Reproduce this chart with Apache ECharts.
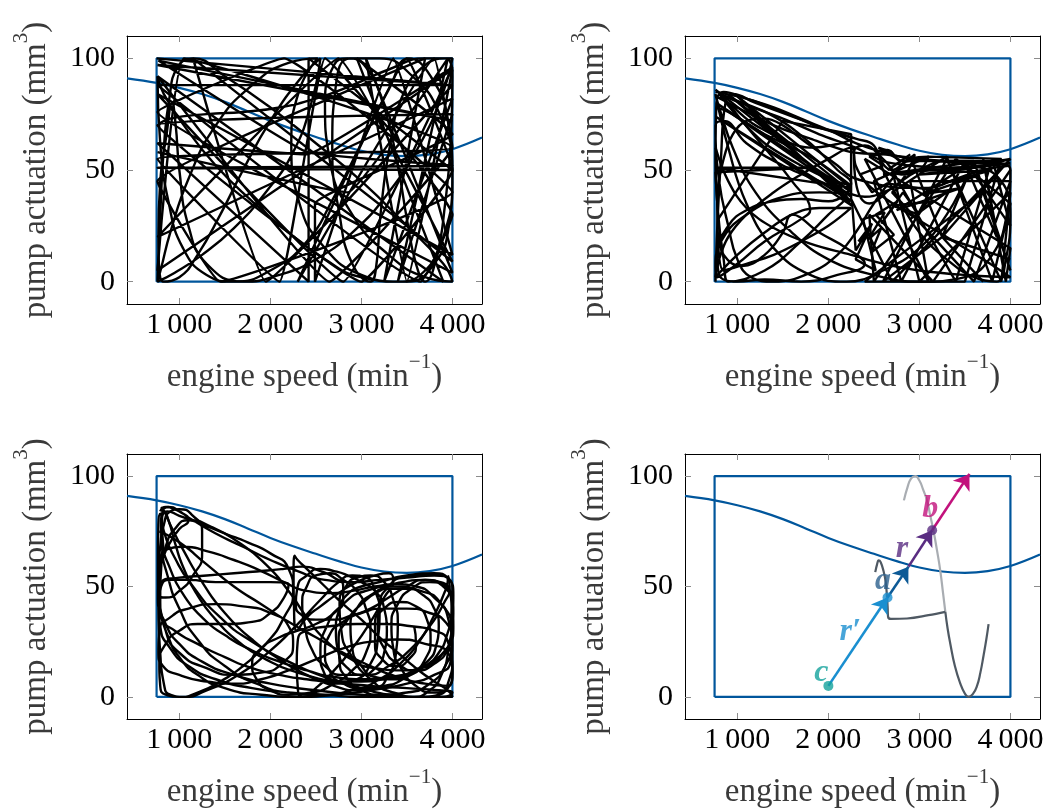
<!DOCTYPE html>
<html><head><meta charset="utf-8">
<script src="https://cdn.jsdelivr.net/npm/echarts@6/dist/echarts.min.js"></script>
<style>html,body{margin:0;padding:0;background:#fff}#c{width:1048px;height:810px}</style>
</head><body><div id="c"></div>
<script>
// ---------- data ----------
const xTicks = [1000, 2000, 3000, 4000];
const yTicks = [0, 50, 100];
const xLabel = '{n|engine speed (min}{s|\u22121}{n|)}';
const yLabel = '{n|pump actuation (mm}{s|3}{n|)}';

const operatingBox = [[750,0],[4000,0],[4000,100],[750,100],[750,0]];
const limitCurve = [[425,91],[750,89],[1000,86.8],[1250,84],[1500,80.5],[1750,76.3],[2000,72],[2250,68.2],[2500,64.8],[2750,61.5],[3000,58.6],[3250,56.8],[3500,56.2],[3750,57],[4000,59.3],[4325,64.5]];

// panel 1 (unconstrained trajectory)
const p1Lines = [[750,100],[4000,88],[760,97],[4000,72],[770,99],[2400,58],[4000,52],[760,51],[4000,50],[2420,100],[2420,0],[760,62],[2400,57],[4000,96],[2800,0],[760,84],[4000,12],[3350,100],[2490,0],[2490,35],[4000,66],[2950,100],[3900,0],[760,92],[2650,0],[4000,60],[1050,100],[760,5],[4000,95],[3500,0],[3050,100],[4000,4],[760,76],[2150,100],[4000,40],[1450,0],[760,45],[3700,100],[3250,0],[4000,82],[760,20],[2750,100],[4000,9],[1150,100],[1950,0],[4000,88],[760,88],[3650,0],[4000,30],[2600,100],[2100,0],[760,55],[4000,60],[3800,100],[2300,0],[3500,100],[4000,50],[3000,0],[760,70],[4000,75],[3400,0],[3950,100],[2850,40],[760,58]];
const p1Curves = [[760,0],[790,30],[830,60],[890,82],[980,96],[1150,100],[1500,92],[2000,78],[2500,62],[3000,45],[3500,25],[3900,8],[4000,0],[3700,2],[3300,12],[2900,30],[2650,55],[2600,80],[2700,97],[2850,100],[3050,96],[3250,78],[3400,52],[3500,28],[3600,8],[3700,0],[3820,10],[3920,35],[3985,65],[4000,92],[3920,100],[3700,97],[3460,84],[3310,60],[3210,30],[3160,6],[3100,0],[2900,8],[2760,30],[2680,60],[2720,88],[2880,100],[3200,100],[3560,92],[3860,75],[4000,50],[3960,25],[3800,8],[3500,0],[3000,2],[2600,10],[2200,22],[1800,36],[1400,52],[1050,70],[830,84],[760,92],[790,62],[880,36],[1040,15],[1300,3],[1600,0],[2000,5],[2400,18],[2700,38],[3000,62],[3300,86],[3520,100],[3760,92],[3950,72],[4000,45],[3900,20],[3700,5],[3400,0],[3000,3],[2600,15],[2320,35],[2230,62],[2320,86],[2520,100],[2200,98],[1800,88],[1400,70],[1100,46],[900,22],[800,6],[760,0],[950,4],[1250,12],[1600,24],[1950,40],[2250,58],[2450,80],[2550,100],[2350,92],[2000,72],[1700,50],[1450,30],[1200,12],[1000,2],[820,0],[770,20],[790,45],[860,66],[920,80],[960,70],[1000,50],[1100,25],[1300,8],[1700,0],[2100,3],[2500,10],[2900,22],[3300,40],[3650,62],[3900,85],[4000,100],[3700,100],[3300,95],[2900,88],[2500,82],[2100,78],[1700,76],[1300,75],[900,73],[760,70]];

// panel 2 (constrained, jagged)
const p2Lines = [[760,86],[2250,38],[770,80],[2255,40],[900,84],[2250,36],[760,74],[2260,34],[1000,83],[2250,42],[760,51],[1780,51],[760,49],[790,28],[1500,72],[2250,66],[2250,37],[2700,0],[4000,55],[3250,20],[2900,56],[3250,20],[4000,10],[3250,20],[3600,54],[3250,20],[3700,0],[3250,20],[2600,0],[3300,55],[3900,0],[4000,40],[3000,0],[2700,50],[3400,0],[3800,55],[4000,25],[3500,54],[2800,0],[2500,45],[3100,56],[3900,55],[3500,0],[2400,0],[3700,40],[4000,5],[3600,54],[2750,32],[3460,42],[3030,39],[3610,47],[3250,44],[3800,50],[3000,48],[4000,53],[2600,48],[3500,53],[3850,20],[3700,55],[3950,0],[4000,15],[2400,55],[3100,0],[2900,45],[4000,45],[3600,0],[2700,40],[3300,56],[3800,0],[4000,35],[3400,55],[2500,0],[2450,30],[3150,0],[4000,50]];
const p2Band = [[760,85],[1100,82],[1500,76],[1900,69],[2250,64],[1800,60],[1200,70],[900,80],[760,83],[1000,78],[1400,70],[1800,64],[2250,58],[2600,57],[3000,55],[3400,54],[3800,54],[4000,55],[3700,52],[3300,51],[2900,52],[2600,54],[2300,60],[1900,66],[1500,73],[1100,79],[800,84],[1000,74],[1300,62],[1700,52],[2000,46],[2250,43],[1800,56],[1300,66],[900,76],[760,78]];
const p2Zigzag = [[2260,36],[2300,14],[2420,22],[2330,18],[2480,26],[2300,10],[2520,5],[2380,28],[2620,31],[2440,19],[2580,24],[2470,13],[2720,21],[2520,30],[2760,36],[2580,26],[2820,40],[3000,30],[2700,34],[3150,36],[2900,28],[3300,40],[2650,44],[2480,40],[2350,48],[2600,52],[2450,56],[2700,58],[2550,60],[2800,54],[2650,50],[2900,57]];
const p2Curves = [[760,0],[780,25],[820,55],[870,80],[950,84],[1200,80],[1600,74],[2000,68],[2300,62],[2600,58],[2900,55],[3200,54],[3500,53],[3800,53],[4000,50],[3960,30],[3800,12],[3500,2],[3000,0],[2500,3],[2000,10],[1600,22],[1200,40],[950,60],[800,78],[760,84],[900,60],[1100,35],[1400,15],[1800,3],[2200,0],[2600,5],[3000,15],[3300,30],[3500,45],[3600,54],[3300,54],[3000,50],[2700,42],[2450,35],[2300,45],[2280,58],[2400,61],[2600,55],[2800,48],[3000,50],[3100,56],[2900,55],[2700,50],[2550,58],[2650,59],[2800,54],[2950,57],[2800,45],[2600,40],[2400,38],[2200,40],[1900,45],[1500,52],[1100,62],[850,72],[760,70],[800,45],[900,25],[1000,10],[1150,2],[1400,0],[1800,4],[2100,12],[2300,22],[2500,35],[2700,46],[2900,54],[3200,54],[3600,52],[3900,45],[4000,30],[3950,10],[3850,0],[3600,2],[3300,10],[3000,22],[2800,35],[2600,50],[2500,61],[2300,64],[2000,68],[1700,73],[1400,78],[1100,82],[850,85],[770,80],[760,55],[790,30],[850,10],[900,0],[1300,5],[1700,18],[2000,30],[2200,38],[1900,40],[1500,38],[1100,30],[850,20],[760,8],[780,2],[1000,8],[1300,18],[1700,28],[1800,32],[1600,45],[1300,60],[1050,72],[900,80],[820,84],[1000,81],[1400,74],[1800,62],[2100,50],[2250,44],[2000,36],[1700,37],[1400,36],[1100,32],[900,25],[780,12],[800,3],[1000,0],[1300,1],[1700,0],[2100,3],[2400,8],[2200,15],[1900,22],[1600,30],[1500,22],[1300,12],[1050,7],[850,12],[790,22]];
const p2Extra = [[760,60],[900,45],[1100,33],[1400,24],[1800,17],[2250,12],[2600,8],[3000,5],[3500,3],[4000,2],[3700,10],[3300,20],[2900,30],[2600,38],[2400,45],[2300,52],[2250,60],[2000,55],[1700,48],[1400,40],[1100,30],[900,20],[800,10],[760,2],[1000,12],[1300,22],[1600,30],[1900,33],[2250,33],[2000,25],[1700,18],[1400,12],[1100,8],[850,5],[780,38],[850,55],[950,66],[1100,72],[1300,73],[1500,70],[1700,64],[1900,58],[2100,52],[2250,47],[2500,44],[2800,42],[3100,42],[3400,46],[3700,50],[4000,52]];

// panel 3 (constrained, smooth)
const p3Curves = [[790,84],[850,86],[950,85],[1150,80],[1400,74],[1700,68],[2000,62],[2300,57],[2600,53],[2900,52],[3200,53],[3500,54],[3800,55],[3970,53],[4010,46],[4000,35],[3960,22],[3880,10],[3750,3],[3550,0],[3300,1],[3000,4],[2600,9],[2200,16],[1800,25],[1450,36],[1150,50],[950,63],[830,75],[790,83],[770,78],[765,60],[770,40],[790,20],[830,6],[900,1],[1050,0],[1300,3],[1650,10],[2000,21],[2300,33],[2550,44],[2750,52],[2900,55],[3050,54],[3150,48],[3200,38],[3180,26],[3100,15],[2950,8],[2750,6],[2600,10],[2550,20],[2620,32],[2800,42],[3050,48],[3350,50],[3650,48],[3880,42],[3990,30],[4000,18],[3950,6],[3850,1],[3650,0],[3350,2],[3100,8],[2900,18],[2780,30],[2760,42],[2830,50],[2950,54],[3100,55],[3250,52],[3350,44],[3400,33],[3380,20],[3300,10],[3150,4],[2950,3],[2700,5],[2400,10],[2100,17],[1800,26],[1500,38],[1250,52],[1050,66],[900,78],[830,84],[800,80],[810,68],[870,55],[1000,40],[1200,26],[1500,14],[1850,6],[2200,2],[2550,1],[2900,3],[3200,8],[3450,16],[3650,26],[3800,37],[3900,46],[3950,53],[3850,55],[3650,55],[3450,54],[3300,50],[3200,42],[3180,32],[3250,22],[3400,15],[3600,12],[3800,15],[3950,22],[4010,32],[4000,42],[3920,50],[3750,52],[3550,49],[3400,42],[3330,32],[3350,22],[3450,12],[3600,5],[3780,2],[3950,4],[4000,12],[3950,25],[3800,30],[3550,32],[3250,33],[2950,33],[2650,32],[2400,30],[2300,25],[2290,15],[2300,5],[2350,0],[2500,4],[2700,12],[2900,22],[3100,34],[3250,45],[3350,53],[3300,56],[3150,55],[2950,52],[2750,47],[2550,41],[2400,36],[2290,30],[2260,40],[2255,55],[2265,64],[2300,62],[2400,58],[2600,50],[2800,42],[3000,35],[3200,27],[3400,20],[3600,13],[3800,7],[3950,3],[4000,0],[3800,0],[3400,0],[3000,0],[2600,1],[2200,2],[1800,4],[1400,8],[1100,14],[900,22],[790,32],[770,42],[800,50],[900,53],[1100,53],[1400,52],[1700,52],[2000,52],[2200,51],[2150,45],[2000,38],[1800,34],[1500,33],[1200,33],[1000,30],[850,24],[780,15],[790,5],[850,1],[1000,0],[1200,2],[1450,7],[1700,14],[1950,24],[2150,36],[2250,48],[2200,58],[2000,65],[1750,70],[1500,74],[1200,79],[1000,82],[870,84],[810,80],[820,70],[900,58],[1050,46],[1250,36],[1500,28],[1800,21],[2100,16],[2400,12],[2700,9],[3000,8],[3300,9],[3600,12],[3850,18],[3980,27],[4010,38],[3980,47],[3870,52],[3700,53],[3500,50],[3300,45],[3100,40],[2900,37],[2700,35],[2500,35],[2350,37],[2280,42],[2300,50],[2400,55],[2550,58],[2700,57],[2850,55],[3000,52],[3150,48],[3250,40],[3280,30],[3250,20],[3150,13],[3000,10],[2850,13],[2750,20],[2720,30],[2760,40],[2860,47],[3000,50],[3200,52],[3500,55],[3800,56],[3950,54],[4000,48],[3990,38],[3940,28],[3850,20],[3700,14],[3500,10],[3250,8],[3000,7],[2700,7],[2400,8],[2100,10],[1800,13],[1500,18],[1200,24],[950,30],[800,36],[765,46],[780,56],[830,64],[900,70],[1000,76],[1100,80],[1000,84],[880,86],[800,84]];
const p3More = [[780,75],[1000,70],[1300,60],[1600,50],[1900,42],[2200,34],[2500,27],[2800,20],[3100,14],[3400,9],[3700,6],[3950,5],[4000,12],[3950,20],[3700,24],[3400,26],[3100,25],[2800,22],[2500,17],[2200,12],[1900,8],[1600,6],[1300,7],[1000,10],[820,14],[770,20],[780,30],[900,36],[1100,40],[1400,42],[1700,41],[2000,38],[2200,32],[2250,24],[2150,16],[1900,11],[1600,10],[1300,13],[1000,20],[850,30],[790,45],[800,58],[850,68],[950,76],[1100,80],[1350,77],[1650,70],[1950,60],[2200,48],[2400,36],[2600,26],[2850,18],[3150,13],[3450,12],[3700,14],[3900,20],[4000,30],[3990,42],[3900,50],[3700,53],[3450,52],[3200,48],[3000,42],[2850,35],[2750,26],[2760,16],[2850,8],[3000,3],[3200,1],[3500,2],[3750,6],[3920,14],[3990,24],[3950,36],[3800,45],[3600,50],[3400,51],[3150,50],[2900,48],[2650,47],[2400,48],[2150,52],[1900,57],[1600,62],[1300,66],[1050,68],[880,67],[790,62],[770,50],[800,38],[880,27],[1000,18],[1200,10],[1500,4],[1900,1],[2300,0],[2700,1],[3100,3],[3500,6],[3800,10],[3980,16],[4000,26],[3920,34],[3750,38],[3500,40],[3250,40],[3000,38],[2800,34],[2650,28],[2600,20],[2650,12],[2800,6],[3000,4],[3250,5],[3500,9],[3700,15],[3820,23],[3850,32],[3800,40],[3680,46],[3500,49],[3300,49],[3100,46],[2950,40],[2880,32],[2900,22],[3000,14],[3150,9],[3350,8],[3550,11],[3700,17],[3760,26],[3720,35],[3600,41],[3420,43],[3250,40],[3150,33],[3150,24],[3230,17],[3380,14],[3520,17],[3600,24],[3580,32]];
const p3Left = [[800,86],[880,80],[950,70],[1050,58],[1200,46],[1400,35],[1650,25],[1950,17],[2300,11],[2700,7],[3100,5],[3500,4],[3850,3],[4000,2],[3900,0],[3500,0],[3000,1],[2500,3],[2000,6],[1600,10],[1250,16],[1000,24],[850,33],[780,44],[770,56],[790,68],[830,78],[900,84],[1000,85],[1150,82],[1250,75],[1250,65],[1150,55],[1000,48],[850,45],[770,46],[800,52],[1000,54],[1300,55],[1600,56],[1900,57],[2150,58],[2350,59],[2550,57],[2700,54],[2800,50],[2800,44],[2700,38],[2500,33],[2300,30],[2100,27],[1900,22],[1800,15],[1850,8],[2000,3],[2200,1],[2450,2],[2700,6],[2900,12],[3050,20],[3100,30],[3050,40],[2950,48],[2800,53],[2650,56],[2500,55],[2400,50],[2350,42],[2380,32],[2450,22],[2600,14],[2800,10],[3050,10],[3300,14],[3550,22],[3750,32],[3900,42],[3970,50],[3950,55]];

// panel 4 (single step)
const pastPath = [[2830,89],[2870,95],[2910,99],[2955,100],[3000,98],[3040,94],[3083,89],[3120,82],[3156,75],[3195,66],[3230,57],[3260,47],[3285,38.5]];
const recentPath = [[2515,56.5],[2535,60],[2552,61.8],[2575,61],[2606,57],[2630,52],[2645,45],[2652,40],[2656,36.3],[2690,35.3],[2864,35.5],[3100,37],[3285,38.5]];
const futurePath = [[3285,38.5],[3310,31],[3340,24],[3390,14],[3450,6],[3500,1.5],[3540,0],[3590,1.5],[3633,5],[3670,11],[3706,19],[3735,26],[3760,33]];
const pointC = [2000, 5];
const pointA = [2650, 45];
const pointMid = [2880, 59];
const pointB = [3140, 75.5];
const pointEnd = [3550, 101];
const labelNames = ['c', 'r\u2032', 'a', 'r', 'b'];
const labelAt = [[1922, 10.8], [2241, 29.5], [2600, 52.8], [2809, 67], [3120, 85.3]];

// ---------- styling / layout ----------
const FONT = 'Liberation Serif';
const BLUE = '#00569c';
const gridPos = [[127, 36], [685, 36], [127, 454], [685, 454]];
const colC = '#14a39c', colRp = '#1a8fd0', colA = '#0d5a96', colAlab = '#2a5f8c', colR = '#5a2d82', colB = '#c2127c';

function fmtX(v) { return Math.floor(v / 1000) + '\u2009' + String(v % 1000).padStart(3, '0'); }

const grids = [], xAxes = [], yAxes = [], series = [];
const richName = {
  n: { fontFamily: FONT, fontSize: 33, color: '#3a3a3a', lineHeight: 42, verticalAlign: 'bottom' },
  s: { fontFamily: FONT, fontSize: 21, color: '#3a3a3a', lineHeight: 24, verticalAlign: 'top' }
};
gridPos.forEach((g, i) => {
  grids.push({ left: g[0], top: g[1], width: 355, height: 268 });
  const tick = { show: true, inside: true, length: 6, lineStyle: { color: '#8c8c8c', width: 1 } };
  const axLine = { show: true, onZero: false, lineStyle: { color: '#000', width: 1 } };
  xAxes.push({ gridIndex: i, type: 'value', min: 425, max: 4325, position: 'bottom',
    axisLine: axLine, splitLine: { show: false },
    axisTick: Object.assign({ customValues: xTicks }, tick),
    axisLabel: { customValues: xTicks, formatter: fmtX, fontFamily: FONT, fontSize: 30, color: '#000', margin: 6 },
    name: xLabel, nameLocation: 'middle', nameGap: 48, nameTextStyle: { rich: richName } });
  xAxes.push({ gridIndex: i, type: 'value', min: 425, max: 4325, position: 'top',
    axisLine: axLine, splitLine: { show: false }, axisLabel: { show: false },
    axisTick: Object.assign({ customValues: xTicks }, tick) });
  yAxes.push({ gridIndex: i, type: 'value', min: -10, max: 110, position: 'left',
    axisLine: axLine, splitLine: { show: false },
    axisTick: Object.assign({ customValues: yTicks }, tick),
    axisLabel: { customValues: yTicks, fontFamily: FONT, fontSize: 30, color: '#000', margin: 12 },
    name: yLabel, nameLocation: 'middle', nameGap: 74, nameTextStyle: { rich: richName } });
  yAxes.push({ gridIndex: i, type: 'value', min: -10, max: 110, position: 'right',
    axisLine: axLine, splitLine: { show: false }, axisLabel: { show: false },
    axisTick: Object.assign({ customValues: yTicks }, tick) });

  const ax = { xAxisIndex: 2 * i, yAxisIndex: 2 * i };
  const lineBase = Object.assign({ type: 'line', showSymbol: false, symbol: 'none', animation: false, silent: true }, ax);
  series.push(Object.assign({}, lineBase, { data: operatingBox, lineStyle: { color: BLUE, width: 2.2 }, z: 2 }));
  series.push(Object.assign({}, lineBase, { data: limitCurve, smooth: 0.4, lineStyle: { color: BLUE, width: 2.2 }, z: 2 }));
  const blk = (d, sm) => Object.assign({}, lineBase, { data: d, smooth: sm, lineStyle: { color: '#000', width: 2.4 }, z: 3 });
  if (i === 0) { series.push(blk(p1Lines, 0.08)); series.push(blk(p1Curves, 0.5)); }
  if (i === 1) { series.push(blk(p2Lines, 0)); series.push(blk(p2Band, 0.3)); series.push(blk(p2Zigzag, 0)); series.push(blk(p2Curves, 0.45)); series.push(blk(p2Extra, 0.4)); }
  if (i === 2) { series.push(blk(p3Curves, 0.6)); series.push(blk(p3More, 0.6)); series.push(blk(p3Left, 0.6)); }
  if (i === 3) {
    series.push(Object.assign({}, lineBase, { data: pastPath, smooth: 0.5, lineStyle: { color: '#a9adb2', width: 2.2 }, z: 3 }));
    series.push(Object.assign({}, lineBase, { data: recentPath, smooth: 0.4, lineStyle: { color: '#4f5963', width: 2.2 }, z: 3 }));
    series.push(Object.assign({}, lineBase, { data: futurePath, smooth: 0.5, lineStyle: { color: '#4f5963', width: 2.2 }, z: 3 }));
    const arrows = [[pointC, pointA, colRp], [pointA, pointMid, colA], [pointMid, pointB, colR], [pointB, pointEnd, colB]];
    series.push(Object.assign({ type: 'lines', coordinateSystem: 'cartesian2d', animation: false, silent: true, z: 4,
      symbol: ['none', 'arrow'], symbolSize: [0, 15],
      data: arrows.map(a => ({ coords: [a[0], a[1]], lineStyle: { color: a[2], width: 2.6, opacity: 1 } })) }, ax));
    series.push(Object.assign({ type: 'scatter', animation: false, silent: true, z: 5, symbolSize: 10,
      data: [
        { value: pointC, itemStyle: { color: colC } },
        { value: pointA, itemStyle: { color: colRp } },
        { value: pointB, itemStyle: { color: colR } }
      ] }, ax));
    const labCols = [colC, colRp, colAlab, colR, colB];
    series.push(Object.assign({ type: 'scatter', animation: false, silent: true, z: 6, symbolSize: 1,
      itemStyle: { color: 'rgba(0,0,0,0)' },
      data: labelAt.map((p, k) => ({ value: p, label: { show: true, position: 'inside', formatter: labelNames[k],
        fontFamily: FONT, fontStyle: 'italic', fontWeight: 'bold', fontSize: 32, color: labCols[k] } })) }, ax));
  }
});

const chart = echarts.init(document.getElementById('c'), null, { renderer: 'canvas' });
chart.setOption({ backgroundColor: '#fff', animation: false, grid: grids, xAxis: xAxes, yAxis: yAxes, series: series });
</script>
</body></html>
